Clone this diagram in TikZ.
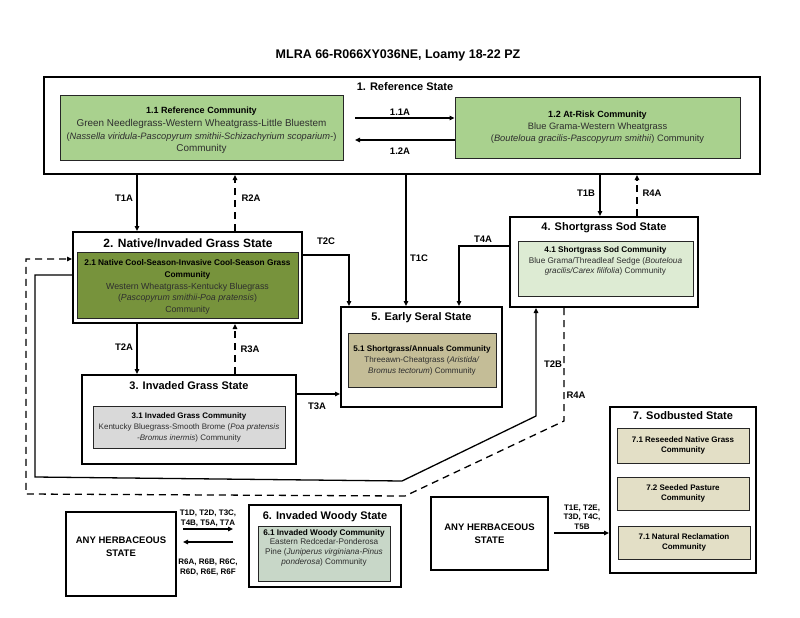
\documentclass[tikz,border=0pt]{standalone}
\usepackage{fontspec}
\setmainfont{Liberation Sans}
\usetikzlibrary{arrows.meta}
\definecolor{g11}{HTML}{A9D18E}
\definecolor{g21}{HTML}{77933C}
\definecolor{g31}{HTML}{D9D9D9}
\definecolor{g41}{HTML}{DDEBD3}
\definecolor{g51}{HTML}{C4BD97}
\definecolor{g61}{HTML}{C8D7C8}
\definecolor{g7}{HTML}{E3DFC6}
\newcommand\fs[2]{\fontsize{#1}{#2}\selectfont}
\newcommand\hd[1]{{\color{black}\bfseries #1}}
\begin{document}
\begin{tikzpicture}[x=1pt,y=-1pt,
 statebox/.style={draw, line width=2pt, fill=white, inner sep=0pt},
 commbox/.style={draw=black!85, line width=0.9pt, inner sep=0pt},
 sz/.style 2 args={minimum width=#1pt, minimum height=#2pt},
 stitle/.style={font=\bfseries\fs{11}{13}, inner sep=0pt},
 ctext/.style={align=center, inner sep=0pt, text=black!82},
 lab/.style={font=\bfseries\fs{9.5}{11}, inner sep=0pt},
 slab/.style={font=\bfseries\fs{8}{9.5}, align=center, inner sep=0pt},
 anyt/.style={font=\bfseries\fs{9.5}{13}, align=center, inner sep=0pt},
 arr/.style={-{Triangle[length=5pt,width=4.5pt]}, line width=1.3pt},
 darr/.style={arr, dash pattern=on 7pt off 5pt},
]
\fill[white] (0,0) rectangle (800,618);
\useasboundingbox (0,0) rectangle (800,618);

\node[font=\bfseries\fs{12.5}{14}] (title) at (398,55) {MLRA 66-R066XY036NE, Loamy 18-22 PZ};

% State 1
\node[statebox, sz={716}{97}] (s1) at (402,125.5) {};
\node[stitle] (t1) at (405,87) {1. Reference State};
\node[commbox, fill=g11, sz={283}{65}] (c11) at (201.5,127.5) {};
\node[ctext, font=\fs{9.9}{12.8}] (n11) at (201.5,130.5) {\hd{\fs{9}{12.8}1.1 Reference Community}\\Green Needlegrass-Western Wheatgrass-Little Bluestem\\{\fs{9.3}{12.8}(\textit{Nassella viridula-Pascopyrum smithii-Schizachyrium scoparium-})}\\Community};
\node[commbox, fill=g11, sz={285}{61}] (c12) at (597.5,127.5) {};
\node[ctext, font=\fs{9.3}{12.2}] (n12) at (c12) {\hd{\fs{9}{12.2}1.2 At-Risk Community}\\Blue Grama-Western Wheatgrass\\(\textit{Bouteloua gracilis-Pascopyrum smithii}) Community};

% State 2
\node[statebox, sz={229}{91}] (s2) at (187.5,277.5) {};
\node[stitle, font=\bfseries\fs{12}{14}] (t2) at (188,243) {2. Native/Invaded Grass State};
\node[commbox, fill=g21, sz={221}{66}] (c21) at (187.5,285) {};
\node[ctext, font=\fs{8.8}{11.6}] (n21) at (187.5,287) {\hd{\fs{8.3}{11.6}2.1 Native Cool-Season-Invasive Cool-Season Grass}\\\hd{\fs{8.3}{11.6}Community}\\Western Wheatgrass-Kentucky Bluegrass\\(\textit{Pascopyrum smithii-Poa pratensis})\\Community};

% State 3
\node[statebox, sz={214}{89}] (s3) at (189,419.5) {};
\node[stitle] (t3) at (189,386) {3. Invaded Grass State};
\node[commbox, fill=g31, sz={192}{42}] (c31) at (189,427) {};
\node[ctext, font=\fs{8}{11}] (n31) at (c31) {\hd{3.1 Invaded Grass Community}\\Kentucky Bluegrass-Smooth Brome (\textit{Poa pratensis}\\\textit{-Bromus inermis}) Community};

% State 4
\node[statebox, sz={188}{90}] (s4) at (604,262) {};
\node[stitle] (t4) at (604,228) {4. Shortgrass Sod State};
\node[commbox, fill=g41, sz={175}{55}] (c41) at (605.5,268.5) {};
\node[ctext, font=\fs{8.2}{10.6}] (n41) at (605.5,261) {\hd{4.1 Shortgrass Sod Community}\\Blue Grama/Threadleaf Sedge (\textit{Bouteloua}\\\textit{gracilis/Carex filifolia}) Community};

% State 5
\node[statebox, sz={161}{100}] (s5) at (421.5,357) {};
\node[stitle] (t5) at (421.5,318) {5. Early Seral State};
\node[commbox, fill=g51, sz={148}{54}] (c51) at (422,360) {};
\node[ctext, font=\fs{8.1}{11}] (n51) at (c51) {\hd{5.1 Shortgrass/Annuals Community}\\Threeawn-Cheatgrass (\textit{Aristida/}\\\textit{Bromus tectorum}) Community};

% State 6
\node[statebox, sz={152}{82}] (s6) at (325,546) {};
\node[stitle] (t6) at (325,517) {6. Invaded Woody State};
\node[commbox, fill=g61, sz={132}{55}] (c61) at (324,553.5) {};
\node[ctext, font=\fs{8.2}{9.6}] (n61) at (324,547.5) {\hd{6.1 Invaded Woody Community}\\Eastern Redcedar-Ponderosa\\Pine (\textit{Juniperus virginiana-Pinus}\\\textit{ponderosa}) Community};

% State 7
\node[statebox, sz={146}{166}] (s7) at (683,490) {};
\node[stitle] (t7) at (683,416) {7. Sodbusted State};
\node[commbox, fill=g7, sz={132}{35}, align=center, font=\bfseries\fs{8}{10.5}] (c71) at (683,445.5) {7.1 Reseeded Native Grass\\Community};
\node[commbox, fill=g7, sz={132}{33}, align=center, font=\bfseries\fs{8}{10.5}] (c72) at (683,493.5) {7.2 Seeded Pasture\\Community};
\node[commbox, fill=g7, sz={132}{33}, align=center, font=\bfseries\fs{8}{10.5}] (c73) at (684,542.5) {7.1 Natural Reclamation\\Community};

% Any herbaceous states
\node[statebox, sz={110}{84}] (aL) at (121,554) {};
\node[anyt] (aLt) at (121,547) {ANY HERBACEOUS\\STATE};
\node[statebox, sz={117}{73}, anyt] (aR) at (489.5,533.5) {ANY HERBACEOUS\\STATE};

% within state 1
\coordinate (p11) at (355,118);
\coordinate (p12) at (355,140);
\draw[arr] (p11) -- (p11 -| c12.west);
\draw[arr] (c12.west |- p12) -- (p12);
\node[lab] at (400,112) {1.1A};
\node[lab] at (400,151) {1.2A};

% vertical transitions
\draw[arr] (137,0 |- s1.south) -- (137,0 |- s2.north);
\node[lab] at (124,198) {T1A};
\draw[darr] (235,0 |- s2.north) -- (235,0 |- s1.south);
\node[lab] at (251,198) {R2A};
\draw[arr] (137,0 |- s2.south) -- (137,0 |- s3.north);
\node[lab] at (124,347) {T2A};
\draw[darr] (235,0 |- s3.north) -- (235,0 |- s2.south);
\node[lab] at (250,349) {R3A};
\draw[arr] (406,0 |- s1.south) -- (406,0 |- s5.north);
\node[lab] at (419,258) {T1C};
\draw[arr] (600,0 |- s1.south) -- (600,0 |- s4.north);
\node[lab] at (586,193) {T1B};
\draw[darr] (637,0 |- s4.north) -- (637,0 |- s1.south);
\node[lab] at (652,193) {R4A};

% to early seral
\draw[arr] (s2.east |- 0,255) -| (349,0 |- s5.north);
\node[lab] at (326,241) {T2C};
\draw[arr] (s4.west |- 0,246) -| (459,0 |- s5.north);
\node[lab] at (483,239) {T4A};
\draw[arr] (s3.east |- 0,394) -- (s5.west |- 0,394);
\node[lab] at (317,406) {T3A};

% long loops
\draw[arr, line join=miter] (s2.west |- 0,275) -- (35,275) -- (35,477) -- (402,481) -- (536,416) -- (536,0 |- s4.south);
\node[lab] at (553,364) {T2B};
\draw[darr] (564,0 |- s4.south) -- (564,421) -- (405,496) -- (26,494) -- (26,259) -- (s2.west |- 0,259);
\node[lab] at (576,395) {R4A};

% bottom transitions
\coordinate (h1) at (183,529);
\coordinate (h2) at (233,529);
\coordinate (h3) at (183,542);
\coordinate (h4) at (233,542);
\draw[arr] (h1) -- (h2);
\draw[arr] (h4) -- (h3);
\node[slab] at (208,518.5) {T1D, T2D, T3C,\\T4B, T5A, T7A};
\node[slab] at (208,567.5) {R6A, R6B, R6C,\\R6D, R6E, R6F};
\coordinate (h5) at (554,533);
\draw[arr] (h5) -- (h5 -| s7.west);
\node[slab] at (582,517) {T1E, T2E,\\T3D, T4C,\\T5B};
\end{tikzpicture}
\end{document}
